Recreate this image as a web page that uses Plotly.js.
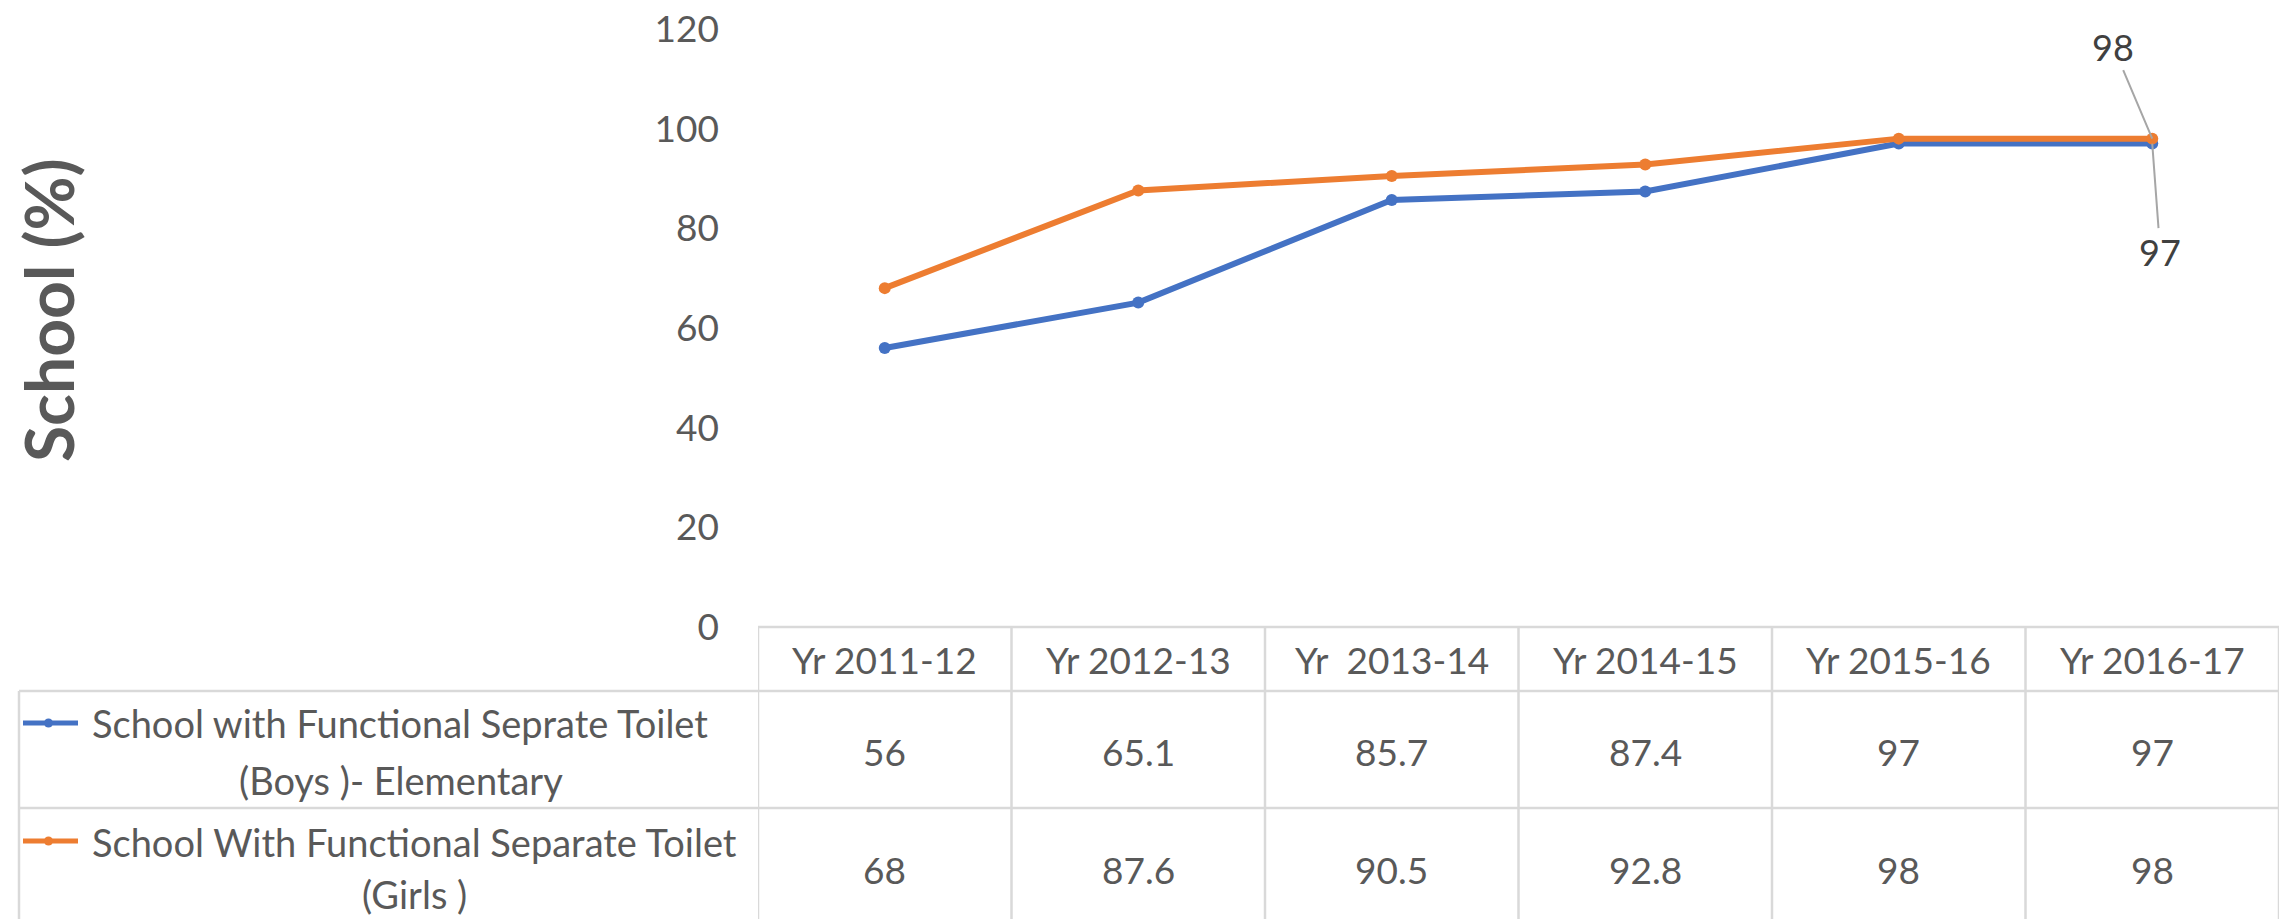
<!DOCTYPE html>
<html>
<head>
<meta charset="utf-8">
<script src="https://cdn.plot.ly/plotly-3.0.1.min.js"></script>
<style>html,body{margin:0;padding:0;background:#fff;}#chart{width:2282px;height:919px;}</style>
</head>
<body>
<div id="chart"></div>
<script>
// ---- data ----
var categories = ["Yr 2011-12", "Yr 2012-13", "Yr  2013-14", "Yr 2014-15", "Yr 2015-16", "Yr 2016-17"];
var boysValues = [56, 65.1, 85.7, 87.4, 97, 97];
var girlsValues = [68, 87.6, 90.5, 92.8, 98, 98];
var boysNameLines = ["School with Functional Seprate Toilet", "(Boys )- Elementary"];
var girlsNameLines = ["School With Functional Separate Toilet", "(Girls )"];
var yTickValues = [0, 20, 40, 60, 80, 100, 120];
var yTitle = "School (%)";

// ---- layout helpers ----
var W = 2282, H = 919;
function px(x) { return x / W; }
function py(y) { return 1 - y / H; }
var BLUE = "#4472C4", ORANGE = "#ED7D31", TXT = "#595959", GRID = "#D9D9D9";
var FONT = "Lato, 'Open Sans', sans-serif";
var tableLeft = 19, plotLeft = 758, plotRight = 2279;
var yTop = 29, yZero = 627, rowH1 = 691, rowH2 = 808, yBottom = 919;

function nb(s) { return s.replace(/  /g, " \u00a0"); }

var idx = categories.map(function (c, i) { return i; });

var traces = [
  { x: idx, y: boysValues, type: "scatter", mode: "lines+markers", name: boysNameLines.join(" "),
    line: { color: BLUE, width: 6 }, marker: { color: BLUE, size: 12 }, showlegend: false, hoverinfo: "x+y" },
  { x: idx, y: girlsValues, type: "scatter", mode: "lines+markers", name: girlsNameLines.join(" "),
    line: { color: ORANGE, width: 6 }, marker: { color: ORANGE, size: 12 }, showlegend: false, hoverinfo: "x+y" }
];

var shapes = [];
function hline(x0, x1, y, xref) {
  shapes.push({ type: "line", xref: xref || "paper", yref: "paper", x0: x0, x1: x1, y0: py(y), y1: py(y), line: { color: GRID, width: 2.5 } });
}
function vline(x, y0, y1, xref) {
  shapes.push({ type: "line", xref: xref || "paper", yref: "paper", x0: x, x1: x, y0: py(y0), y1: py(y1), line: { color: GRID, width: 2.5 } });
}
// header top
hline(-0.5, categories.length - 0.5, yZero, "x");
// row separators
hline(px(tableLeft), px(plotRight), rowH1);
hline(px(tableLeft), px(plotRight), rowH2);
// verticals
vline(px(tableLeft), rowH1, yBottom);
for (var i = 0; i <= categories.length; i++) vline(i - 0.5, yZero, yBottom, "x");

// legend keys
function key(color, y) {
  shapes.push({ type: "line", xref: "paper", yref: "paper", x0: px(23), x1: px(78), y0: py(y), y1: py(y), line: { color: color, width: 5 } });
  shapes.push({ type: "circle", xref: "paper", yref: "paper", x0: px(44), x1: px(53), y0: py(y + 4.5), y1: py(y - 4.5), fillcolor: color, line: { color: color, width: 0 } });
}
key(BLUE, 723);
key(ORANGE, 841);

var annotations = [];
var tf = { family: FONT, size: 37, color: TXT };
var lf = { family: FONT, size: 38, color: TXT };
categories.forEach(function (c, i) {
  annotations.push({ x: i, xref: "x", y: py(659), yref: "paper", text: nb(c), showarrow: false, font: tf, xanchor: "center", yanchor: "middle" });
  annotations.push({ x: i, xref: "x", y: py(751), yref: "paper", text: String(boysValues[i]), showarrow: false, font: tf, xanchor: "center", yanchor: "middle" });
  annotations.push({ x: i, xref: "x", y: py(869), yref: "paper", text: String(girlsValues[i]), showarrow: false, font: tf, xanchor: "center", yanchor: "middle" });
});
annotations.push({ x: px(400), xref: "paper", y: py(723), yref: "paper", text: boysNameLines[0], showarrow: false, font: lf, xanchor: "center", yanchor: "middle" });
annotations.push({ x: px(401), xref: "paper", y: py(780), yref: "paper", text: boysNameLines[1], showarrow: false, font: lf, xanchor: "center", yanchor: "middle" });
annotations.push({ x: px(414), xref: "paper", y: py(842), yref: "paper", text: girlsNameLines[0], showarrow: false, font: lf, xanchor: "center", yanchor: "middle" });
annotations.push({ x: px(414), xref: "paper", y: py(894), yref: "paper", text: girlsNameLines[1], showarrow: false, font: lf, xanchor: "center", yanchor: "middle" });

// data labels on last points
var last = categories.length - 1;
annotations.push({ x: last, y: girlsValues[last], xref: "x", yref: "y", text: String(girlsValues[last]), showarrow: true, arrowhead: 0, arrowwidth: 2, arrowcolor: "#A6A6A6", ax: -39, ay: -92, standoff: 0, font: { family: FONT, size: 36, color: "#404040" } });
annotations.push({ x: last, y: boysValues[last], xref: "x", yref: "y", text: String(boysValues[last]), showarrow: true, arrowhead: 0, arrowwidth: 2, arrowcolor: "#A6A6A6", ax: 8, ay: 108, standoff: 0, font: { family: FONT, size: 36, color: "#404040" } });

// y axis title
annotations.push({ x: px(48), xref: "paper", y: py(310), yref: "paper", text: "<b>" + yTitle + "</b>", textangle: -90, showarrow: false, font: { family: FONT, size: 66, color: TXT }, xanchor: "center", yanchor: "middle" });

var layout = {
  width: W, height: H,
  margin: { l: 0, r: 0, t: 0, b: 0, pad: 0 },
  paper_bgcolor: "#fff", plot_bgcolor: "rgba(0,0,0,0)",
  showlegend: false,
  xaxis: { domain: [px(plotLeft), px(plotRight)], range: [-0.5, categories.length - 0.5], showgrid: false, zeroline: false, showline: false, showticklabels: false, ticks: "", fixedrange: true },
  yaxis: { domain: [py(yZero), py(yTop)], range: [0, 120], tickvals: yTickValues, ticktext: yTickValues.map(String), showgrid: false, zeroline: false, showline: false, ticks: "", ticklabelstandoff: 38, tickfont: { family: FONT, size: 37, color: TXT }, fixedrange: true },
  shapes: shapes,
  annotations: annotations
};

Plotly.newPlot("chart", traces, layout, { displayModeBar: false, staticPlot: true });
</script>
</body>
</html>
